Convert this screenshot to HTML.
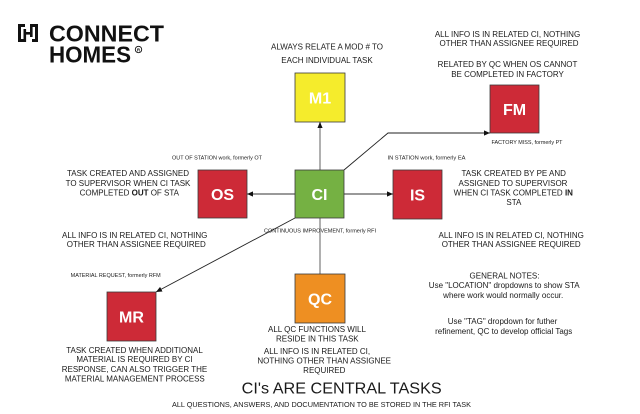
<!DOCTYPE html>
<html>
<head>
<meta charset="utf-8">
<style>
  html,body{margin:0;padding:0;background:#fff;}
  body{width:640px;height:414px;overflow:hidden;}
  svg{display:block;}
  text{font-family:"Liberation Sans", Arial, sans-serif;fill:#1a1a1a;}
  .t8{font-size:8px;}
  .t5{font-size:5.4px;}
  .box{stroke:#3a3a3a;stroke-width:0.8;}
  .lbl{font-size:16px;font-weight:bold;fill:#fff;}
</style>
</head>
<body>
<svg width="640" height="414" viewBox="0 0 640 414" xmlns="http://www.w3.org/2000/svg">
  <defs>
    <marker id="ah" markerUnits="userSpaceOnUse" markerWidth="6" markerHeight="6" refX="6" refY="3" orient="auto">
      <path d="M0,0.4 L6,3 L0,5.6 z" fill="#111"/>
    </marker>
  </defs>

  <!-- Logo -->
  <g fill="#111">
    <rect x="18" y="24" width="3" height="18"/>
    <rect x="18" y="24" width="7" height="3"/>
    <rect x="18" y="39" width="6" height="3"/>
    <rect x="35" y="24" width="3" height="18"/>
    <rect x="31" y="24" width="7" height="3"/>
    <rect x="32" y="39" width="6" height="3"/>
    <rect x="23.5" y="29" width="2.6" height="13"/>
    <rect x="30" y="24" width="2.6" height="13"/>
    <rect x="23.5" y="32" width="9" height="2.6"/>
  </g>
  <text x="49" y="41.5" font-size="23" font-weight="bold" textLength="115" lengthAdjust="spacingAndGlyphs" style="fill:#111">CONNECT</text>
  <text x="49" y="62.5" font-size="23" font-weight="bold" textLength="82" lengthAdjust="spacingAndGlyphs" style="fill:#111">HOMES</text>
  <circle cx="138.5" cy="49.5" r="3.2" fill="none" stroke="#111" stroke-width="0.9"/>
  <text x="138.5" y="51.3" font-size="4.5" font-weight="bold" text-anchor="middle" style="fill:#111">R</text>

  <!-- Connectors -->
  <line x1="320" y1="170" x2="320" y2="122" stroke="#8f8f8f" stroke-width="1.4" marker-end="url(#ah)"/>
  <line x1="320" y1="218" x2="320" y2="274" stroke="#8f8f8f" stroke-width="1.4"/>
  <polyline points="344,170 388,133 490,133" fill="none" stroke="#222" stroke-width="0.9" marker-end="url(#ah)"/>
  <line x1="295" y1="194" x2="247" y2="194" stroke="#333" stroke-width="0.9" marker-end="url(#ah)"/>
  <line x1="344" y1="194" x2="393" y2="194" stroke="#333" stroke-width="0.9" marker-end="url(#ah)"/>
  <line x1="295" y1="218" x2="156" y2="292" stroke="#222" stroke-width="0.9" marker-end="url(#ah)"/>

  <!-- Boxes -->
  <rect class="box" x="295" y="73" width="50" height="49" fill="#f5ec2c"/>
  <text class="lbl" x="320" y="103.5" text-anchor="middle">M1</text>

  <rect class="box" x="490" y="85" width="49" height="48" fill="#cd2a37"/>
  <text class="lbl" x="514.5" y="114.8" text-anchor="middle">FM</text>

  <rect class="box" x="198" y="170" width="49" height="48" fill="#cd2a37"/>
  <text class="lbl" x="222.5" y="199.8" text-anchor="middle">OS</text>

  <rect class="box" x="295" y="170" width="49" height="48" fill="#75b143"/>
  <text class="lbl" x="319.5" y="199.8" text-anchor="middle">CI</text>

  <rect class="box" x="393" y="170" width="49" height="49" fill="#cd2a37"/>
  <text class="lbl" x="417.5" y="200.3" text-anchor="middle">IS</text>

  <rect class="box" x="295" y="274" width="50" height="49" fill="#ee8f22"/>
  <text class="lbl" x="320" y="304.3" text-anchor="middle">QC</text>

  <rect class="box" x="107" y="292" width="49" height="49" fill="#cd2a37"/>
  <text class="lbl" x="131.5" y="322.3" text-anchor="middle">MR</text>

  <!-- M1 notes -->
  <text class="t8" x="327" y="49.6" text-anchor="middle">ALWAYS RELATE A MOD # TO</text>
  <text class="t8" x="327" y="63.2" text-anchor="middle">EACH INDIVIDUAL TASK</text>

  <!-- FM notes -->
  <text class="t8" x="507.5" y="36.9" text-anchor="middle">ALL INFO IS IN RELATED CI, NOTHING</text>
  <text class="t8" x="509" y="46.2" text-anchor="middle">OTHER THAN ASSIGNEE REQUIRED</text>
  <text class="t8" x="507.5" y="67.2" text-anchor="middle">RELATED BY QC WHEN OS CANNOT</text>
  <text class="t8" x="507.5" y="76.9" text-anchor="middle">BE COMPLETED IN FACTORY</text>
  <text class="t5" x="527" y="144" text-anchor="middle" textLength="71" lengthAdjust="spacingAndGlyphs">FACTORY MISS, formerly PT</text>

  <!-- OS notes -->
  <text class="t5" x="217" y="159.3" text-anchor="middle" textLength="90" lengthAdjust="spacingAndGlyphs">OUT OF STATION work, formerly OT</text>
  <text class="t8" x="128" y="176.2" text-anchor="middle">TASK CREATED AND ASSIGNED</text>
  <text class="t8" x="128" y="186.2" text-anchor="middle">TO SUPERVISOR WHEN CI TASK</text>
  <text class="t8" x="129.3" y="195.6" text-anchor="middle">COMPLETED <tspan font-weight="bold">OUT</tspan> OF STA</text>
  <text class="t8" x="134.7" y="237.9" text-anchor="middle">ALL INFO IS IN RELATED CI, NOTHING</text>
  <text class="t8" x="136.3" y="247.2" text-anchor="middle">OTHER THAN ASSIGNEE REQUIRED</text>

  <!-- CI label -->
  <text class="t5" x="320" y="232.3" text-anchor="middle" textLength="112" lengthAdjust="spacingAndGlyphs">CONTINUOUS IMPROVEMENT, formerly RFI</text>

  <!-- IS notes -->
  <text class="t5" x="426.5" y="159.7" text-anchor="middle" textLength="78" lengthAdjust="spacingAndGlyphs">IN STATION work, formerly EA</text>
  <text class="t8" x="513.7" y="176.2" text-anchor="middle">TASK CREATED BY PE AND</text>
  <text class="t8" x="513" y="185.9" text-anchor="middle">ASSIGNED TO SUPERVISOR</text>
  <text class="t8" x="513.3" y="195.6" text-anchor="middle">WHEN CI  TASK COMPLETED <tspan font-weight="bold">IN</tspan></text>
  <text class="t8" x="513.9" y="205.2" text-anchor="middle">STA</text>
  <text class="t8" x="511.2" y="237.9" text-anchor="middle">ALL INFO IS IN RELATED CI, NOTHING</text>
  <text class="t8" x="511.2" y="247.2" text-anchor="middle">OTHER THAN ASSIGNEE REQUIRED</text>

  <!-- MR notes -->
  <text class="t5" x="115.7" y="277" text-anchor="middle" textLength="90" lengthAdjust="spacingAndGlyphs">MATERIAL REQUEST, formerly RFM</text>
  <text class="t8" x="134.5" y="352.9" text-anchor="middle">TASK CREATED WHEN ADDITIONAL</text>
  <text class="t8" x="134.5" y="362.2" text-anchor="middle">MATERIAL IS REQUIRED BY CI</text>
  <text class="t8" x="134.5" y="371.9" text-anchor="middle">RESPONSE, CAN ALSO TRIGGER THE</text>
  <text class="t8" x="134.8" y="381.6" text-anchor="middle">MATERIAL MANAGEMENT PROCESS</text>

  <!-- QC notes -->
  <text class="t8" x="317" y="332.2" text-anchor="middle">ALL QC FUNCTIONS WILL</text>
  <text class="t8" x="317.3" y="341.6" text-anchor="middle">RESIDE IN THIS TASK</text>
  <text class="t8" x="317" y="353.9" text-anchor="middle">ALL INFO IS IN RELATED CI,</text>
  <text class="t8" x="324.2" y="363.6" text-anchor="middle">NOTHING OTHER THAN ASSIGNEE</text>
  <text class="t8" x="324.3" y="372.9" text-anchor="middle">REQUIRED</text>

  <!-- General notes -->
  <text class="t8" x="504.5" y="278.6" text-anchor="middle">GENERAL NOTES:</text>
  <text class="t8" x="504.2" y="288.2" text-anchor="middle">Use "LOCATION" dropdowns to show STA</text>
  <text class="t8" x="503.2" y="297.9" text-anchor="middle">where work would normally occur.</text>
  <text class="t8" x="502.5" y="323.9" text-anchor="middle">Use "TAG" dropdown for futher</text>
  <text class="t8" x="503.7" y="333.9" text-anchor="middle">refinement, QC to develop official Tags</text>

  <!-- Footer -->
  <text x="341.7" y="393.4" font-size="16" text-anchor="middle" textLength="200" lengthAdjust="spacingAndGlyphs">CI's ARE CENTRAL TASKS</text>
  <text x="321.5" y="407" font-size="7.5" text-anchor="middle" textLength="299" lengthAdjust="spacingAndGlyphs">ALL QUESTIONS, ANSWERS, AND DOCUMENTATION TO BE STORED IN THE RFI TASK</text>
</svg>
</body>
</html>
